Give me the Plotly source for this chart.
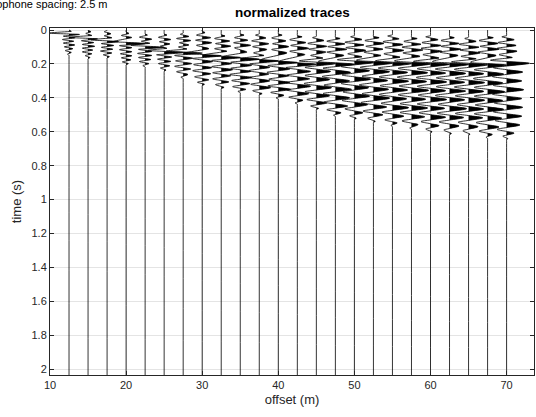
import plotly.graph_objects as go

# ---------------- data ----------------
offsets = [12.5, 15.0, 17.5, 20.0, 22.5, 25.0, 27.5, 30.0, 32.5, 35.0, 37.5, 40.0,
           42.5, 45.0, 47.5, 50.0, 52.5, 55.0, 57.5, 60.0, 62.5, 65.0, 67.5, 70.0]

# times (s) of wiggle extrema, one list per trace
wiggle_times = [
    [0.008, 0.018, 0.026, 0.036, 0.046, 0.056, 0.066, 0.077, 0.088, 0.099, 0.110, 0.121, 0.132, 0.142],
    [0.010, 0.020, 0.032, 0.043, 0.052, 0.063, 0.074, 0.085, 0.096, 0.107, 0.118, 0.129, 0.140, 0.151, 0.162],
    [0.010, 0.022, 0.034, 0.046, 0.058, 0.068, 0.080, 0.091, 0.102, 0.113, 0.124, 0.135, 0.146, 0.157],
    [0.020, 0.032, 0.044, 0.068, 0.080, 0.092, 0.104, 0.116, 0.128, 0.140, 0.152, 0.164, 0.176, 0.188, 0.198],
    [0.030, 0.042, 0.054, 0.066, 0.078, 0.090, 0.102, 0.114, 0.126, 0.138, 0.150, 0.162, 0.174, 0.186, 0.198, 0.210],
    [0.030, 0.043, 0.056, 0.069, 0.082, 0.095, 0.108, 0.120, 0.133, 0.146, 0.159, 0.172, 0.185, 0.198, 0.211, 0.224, 0.236],
    [0.025, 0.038, 0.050, 0.062, 0.075, 0.088, 0.100, 0.112, 0.124, 0.136, 0.150, 0.166, 0.182, 0.198, 0.214, 0.230, 0.246, 0.262, 0.278],
    [0.015, 0.030, 0.045, 0.060, 0.075, 0.090, 0.110, 0.137, 0.152, 0.168, 0.186, 0.204, 0.222, 0.240, 0.258, 0.276, 0.294, 0.308, 0.320],
    [0.035, 0.050, 0.065, 0.080, 0.095, 0.110, 0.125, 0.147, 0.162, 0.180, 0.198, 0.216, 0.234, 0.252, 0.270, 0.288, 0.306, 0.322, 0.338],
    [0.030, 0.045, 0.060, 0.075, 0.090, 0.105, 0.130, 0.157, 0.172, 0.190, 0.208, 0.226, 0.244, 0.262, 0.280, 0.298, 0.316, 0.334, 0.350, 0.362],
    [0.030, 0.047, 0.064, 0.081, 0.098, 0.115, 0.135, 0.150, 0.167, 0.182, 0.200, 0.220, 0.240, 0.260, 0.280, 0.300, 0.320, 0.340, 0.358, 0.375],
    [0.030, 0.047, 0.064, 0.081, 0.098, 0.115, 0.135, 0.175, 0.192, 0.210, 0.230, 0.250, 0.270, 0.290, 0.310, 0.330, 0.350, 0.368, 0.385, 0.400],
    [0.040, 0.057, 0.074, 0.091, 0.108, 0.125, 0.145, 0.185, 0.202, 0.222, 0.244, 0.266, 0.288, 0.310, 0.332, 0.354, 0.376, 0.396, 0.414, 0.430],
    [0.045, 0.062, 0.079, 0.096, 0.113, 0.130, 0.150, 0.165, 0.182, 0.198, 0.220, 0.244, 0.268, 0.292, 0.316, 0.340, 0.364, 0.388, 0.410, 0.430, 0.448, 0.462],
    [0.050, 0.066, 0.082, 0.098, 0.114, 0.130, 0.150, 0.185, 0.202, 0.225, 0.250, 0.275, 0.300, 0.325, 0.350, 0.375, 0.400, 0.425, 0.448, 0.470, 0.488, 0.502],
    [0.040, 0.056, 0.072, 0.088, 0.104, 0.120, 0.140, 0.158, 0.175, 0.192, 0.215, 0.240, 0.265, 0.290, 0.315, 0.340, 0.365, 0.390, 0.415, 0.440, 0.465, 0.488, 0.506, 0.520],
    [0.045, 0.062, 0.079, 0.096, 0.113, 0.130, 0.150, 0.178, 0.195, 0.220, 0.246, 0.272, 0.298, 0.324, 0.350, 0.376, 0.402, 0.428, 0.454, 0.478, 0.500, 0.520, 0.538],
    [0.035, 0.052, 0.069, 0.086, 0.103, 0.120, 0.140, 0.160, 0.182, 0.198, 0.224, 0.250, 0.276, 0.302, 0.328, 0.354, 0.380, 0.406, 0.432, 0.458, 0.484, 0.508, 0.530, 0.548, 0.562],
    [0.050, 0.067, 0.084, 0.101, 0.118, 0.135, 0.155, 0.182, 0.200, 0.226, 0.252, 0.278, 0.304, 0.330, 0.356, 0.382, 0.408, 0.434, 0.460, 0.486, 0.512, 0.536, 0.558, 0.578],
    [0.040, 0.057, 0.074, 0.091, 0.108, 0.125, 0.145, 0.165, 0.185, 0.202, 0.228, 0.254, 0.280, 0.306, 0.332, 0.358, 0.384, 0.410, 0.436, 0.462, 0.488, 0.514, 0.540, 0.564, 0.584, 0.600],
    [0.045, 0.062, 0.079, 0.096, 0.113, 0.130, 0.150, 0.186, 0.203, 0.230, 0.256, 0.282, 0.308, 0.334, 0.360, 0.386, 0.412, 0.438, 0.464, 0.490, 0.516, 0.542, 0.566, 0.590, 0.610],
    [0.050, 0.067, 0.084, 0.101, 0.118, 0.135, 0.155, 0.170, 0.188, 0.205, 0.232, 0.258, 0.284, 0.310, 0.336, 0.362, 0.388, 0.414, 0.440, 0.466, 0.492, 0.518, 0.544, 0.570, 0.594, 0.614],
    [0.045, 0.062, 0.079, 0.096, 0.113, 0.130, 0.150, 0.190, 0.207, 0.234, 0.260, 0.286, 0.312, 0.338, 0.364, 0.390, 0.416, 0.442, 0.468, 0.494, 0.520, 0.546, 0.572, 0.596, 0.616, 0.632],
    [0.040, 0.057, 0.074, 0.091, 0.108, 0.125, 0.145, 0.162, 0.178, 0.196, 0.222, 0.248, 0.274, 0.300, 0.326, 0.352, 0.378, 0.404, 0.430, 0.456, 0.482, 0.508, 0.534, 0.560, 0.586, 0.608, 0.626, 0.640],
]

# normalized amplitudes at those extrema (1 = one trace spacing of deflection)
wiggle_amps = [
    [0.12, -1.05, 0.55, -0.3, 0.3, -0.35, 0.25, -0.3, 0.3, -0.25, 0.2, -0.2, 0.12, -0.08],
    [0.15, -0.12, 0.2, -1.0, 0.5, -0.35, 0.3, -0.3, 0.35, -0.3, 0.25, -0.3, 0.2, -0.15, 0.1],
    [-0.15, 0.2, -0.15, 0.25, -0.85, 0.6, -0.3, 0.35, -0.3, 0.3, -0.35, 0.25, -0.2, 0.12],
    [0.15, -0.25, 0.3, -0.65, 1.0, -0.35, 0.3, -0.35, 0.3, -0.3, 0.3, -0.25, 0.25, -0.2, 0.12],
    [0.12, -0.3, 0.35, -0.2, 0.25, -0.75, 1.0, -0.35, 0.35, -0.4, 0.35, -0.35, 0.3, -0.3, 0.2, -0.12],
    [0.15, -0.3, 0.35, -0.25, 0.3, -0.2, 0.15, -0.85, 1.0, -0.4, 0.4, -0.35, 0.35, -0.3, 0.3, -0.2, 0.1],
    [-0.15, 0.3, -0.35, 0.4, -0.2, 0.3, -0.25, 0.2, -0.9, 1.0, -0.45, 0.5, -0.4, 0.45, -0.45, 0.4, -0.35, 0.25, -0.12],
    [0.15, -0.3, 0.45, -0.35, 0.5, -0.3, 0.35, -0.95, 1.0, -0.5, 0.55, -0.45, 0.5, -0.5, 0.45, -0.4, 0.35, -0.25, 0.12],
    [0.2, -0.35, 0.45, -0.3, 0.5, -0.35, 0.3, -0.9, 1.0, -0.5, 0.55, -0.5, 0.6, -0.45, 0.5, -0.45, 0.4, -0.3, 0.15],
    [0.2, -0.3, 0.4, -0.35, 0.55, -0.3, 0.35, -0.9, 1.0, -0.5, 0.6, -0.5, 0.55, -0.55, 0.6, -0.45, 0.5, -0.4, 0.3, -0.12],
    [-0.2, 0.35, -0.4, 0.5, -0.35, 0.4, -0.3, 0.25, -0.9, 1.0, -0.5, 0.55, -0.55, 0.5, -0.5, 0.55, -0.45, 0.6, -0.35, 0.15],
    [0.2, -0.35, 0.4, -0.3, 0.55, -0.35, 0.45, -0.9, 1.0, -0.55, 0.6, -0.6, 0.55, -0.5, 0.6, -0.55, 0.65, -0.4, 0.3, -0.12],
    [0.25, -0.4, 0.45, -0.35, 0.6, -0.4, 0.4, -0.95, 1.0, -0.6, 0.7, -0.55, 0.65, -0.6, 0.7, -0.55, 0.6, -0.45, 0.3, -0.12],
    [-0.2, 0.4, -0.45, 0.55, -0.4, 0.5, -0.3, 0.35, -0.9, 1.0, -0.6, 0.75, -0.6, 0.7, -0.65, 0.8, -0.6, 0.7, -0.5, 0.55, -0.3, 0.12],
    [0.25, -0.45, 0.5, -0.4, 0.6, -0.45, 0.45, -0.9, 1.0, -0.65, 0.8, -0.7, 0.75, -0.6, 0.85, -0.65, 0.75, -0.6, 0.65, -0.45, 0.3, -0.1],
    [-0.2, 0.4, -0.5, 0.5, -0.45, 0.6, -0.35, 0.4, -0.9, 1.0, -0.7, 0.8, -0.65, 0.85, -0.7, 0.75, -0.6, 0.8, -0.65, 0.7, -0.5, 0.45, -0.25, 0.1],
    [0.3, -0.45, 0.55, -0.4, 0.5, -0.5, 0.4, -0.9, 1.0, -0.7, 0.85, -0.6, 0.75, -0.75, 0.8, -0.6, 0.85, -0.65, 0.7, -0.55, 0.5, -0.3, 0.1],
    [-0.25, 0.35, -0.5, 0.55, -0.4, 0.6, -0.45, 0.4, -0.9, 1.0, -0.75, 0.8, -0.7, 0.85, -0.65, 0.8, -0.7, 0.75, -0.6, 0.85, -0.55, 0.6, -0.4, 0.25, -0.08],
    [0.3, -0.4, 0.5, -0.5, 0.6, -0.45, 0.45, -0.9, 1.0, -0.7, 0.85, -0.75, 0.8, -0.65, 0.9, -0.7, 0.75, -0.6, 0.85, -0.6, 0.7, -0.5, 0.35, -0.1],
    [-0.25, 0.4, -0.45, 0.55, -0.5, 0.6, -0.4, 0.45, -0.9, 1.0, -0.7, 0.8, -0.75, 0.85, -0.7, 0.8, -0.65, 0.85, -0.7, 0.75, -0.6, 0.8, -0.5, 0.45, -0.25, 0.08],
    [0.25, -0.45, 0.5, -0.45, 0.6, -0.5, 0.45, -0.9, 1.0, -0.75, 0.85, -0.7, 0.8, -0.7, 0.85, -0.75, 0.8, -0.6, 0.9, -0.65, 0.75, -0.55, 0.5, -0.3, 0.1],
    [-0.2, 0.4, -0.5, 0.55, -0.45, 0.6, -0.4, 0.4, -0.9, 1.0, -0.75, 0.8, -0.7, 0.85, -0.75, 0.8, -0.7, 0.85, -0.6, 0.8, -0.7, 0.75, -0.55, 0.5, -0.3, 0.08],
    [0.3, -0.45, 0.55, -0.4, 0.6, -0.5, 0.45, -0.9, 1.0, -0.7, 0.85, -0.75, 0.8, -0.7, 0.9, -0.7, 0.8, -0.65, 0.85, -0.7, 0.75, -0.6, 0.6, -0.45, 0.25, -0.08],
    [-0.25, 0.4, -0.45, 0.5, -0.5, 0.55, -0.4, 0.3, -0.85, 1.2, -0.7, 0.85, -0.75, 0.8, -0.7, 0.9, -0.75, 0.8, -0.65, 0.85, -0.7, 0.8, -0.6, 0.7, -0.5, 0.4, -0.2, 0.06],
]

record_end = 2.035          # last sample time of the record (s)
spacing_label = "geophone spacing: 2.5 m"
x_tick_vals = [10, 20, 30, 40, 50, 60, 70]
y_tick_vals = [0, 0.2, 0.4, 0.6, 0.8, 1.0, 1.2, 1.4, 1.6, 1.8, 2.0]
y_tick_text = ["0", "0.2", "0.4", "0.6", "0.8", "1", "1.2", "1.4", "1.6", "1.8", "2"]

# ---------------- drawing ----------------
AMP_SCALE = 2.5   # one normalized unit = one geophone spacing
INK = "#262626"
FONT = "Liberation Sans, Arial, Helvetica, sans-serif"
W, H = 536, 417
ML, MR, MT, MB = 50, 2, 28, 42


def build_points(ts, amps):
    """Trace samples plus baseline crossings (as a wiggle plotter does)."""
    pts = [(0.0, 0.0)]
    lead = ts[0] - 0.008
    if lead > 0.01:
        pts.append((lead - 0.008, 0.0))
    if lead > 0:
        pts.append((lead, 0.0))
    for i in range(len(ts)):
        if i > 0 and amps[i - 1] * amps[i] < 0:
            a0, a1 = amps[i - 1], amps[i]
            tz = ts[i - 1] + (ts[i] - ts[i - 1]) * a0 / (a0 - a1)
            pts.append((tz, 0.0))
        pts.append((ts[i], amps[i]))
    pts.append((ts[-1] + 0.008, 0.0))
    pts.append((ts[-1] + 0.016, 0.0))
    pts.append((record_end, 0.0))
    return pts


fig = go.Figure()

for off, ts, amps in zip(offsets, wiggle_times, wiggle_amps):
    pts = build_points(ts, amps)
    # positive lobes -> filled polygons
    fx, fy = [], []
    i = 0
    while i < len(pts):
        if pts[i][1] > 0:
            j = i
            while j < len(pts) and pts[j][1] > 0:
                j += 1
            seg = [pts[i - 1]] + pts[i:j] + [pts[j]]
            fx += [off + a * AMP_SCALE for _, a in seg] + [None]
            fy += [t for t, _ in seg] + [None]
            i = j
        else:
            i += 1
    fig.add_trace(go.Scatter(
        x=fx, y=fy, mode="lines", fill="toself", fillcolor="black",
        line=dict(color="black", width=0, shape="spline"),
        hoverinfo="skip", showlegend=False))
    fig.add_trace(go.Scatter(
        x=[off + a * AMP_SCALE for _, a in pts], y=[t for t, _ in pts],
        mode="lines", line=dict(color="black", width=0.8, shape="spline"),
        hoverinfo="skip", showlegend=False))

axis_common = dict(
    showline=True, linecolor=INK, linewidth=1, mirror="ticks",
    ticks="inside", ticklen=4, tickcolor=INK, tickwidth=1,
    showgrid=True, gridcolor="#e4e4e4", gridwidth=1, zeroline=False,
    tickfont=dict(family=FONT, size=11, color=INK),
)

plot_w = W - ML - MR
plot_h = H - MT - MB

fig.update_layout(
    width=W, height=H,
    margin=dict(l=ML, r=MR, t=MT, b=MB),
    paper_bgcolor="white", plot_bgcolor="white",
    xaxis=dict(range=[10, 73.6], tickvals=x_tick_vals,
               title=dict(text="offset (m)", standoff=4,
                          font=dict(family=FONT, size=13, color=INK)),
               **axis_common),
    yaxis=dict(range=[record_end, -0.012], tickvals=y_tick_vals, ticktext=y_tick_text,
               title=dict(text="time (s)", standoff=6,
                          font=dict(family=FONT, size=13, color=INK)),
               **axis_common),
    annotations=[
        dict(text="<b>normalized traces</b>", xref="paper", yref="paper",
             x=0.5, y=1 + (MT - 12) / plot_h, xanchor="center", yanchor="middle",
             showarrow=False, font=dict(family=FONT, size=13.5, color="black")),
        dict(text=spacing_label, xref="paper", yref="paper",
             x=(110 - ML) / plot_w, y=1 + (MT - 4) / plot_h,
             xanchor="right", yanchor="middle", showarrow=False,
             font=dict(family=FONT, size=11, color="black")),
    ],
)

fig.write_html("out.html", config={"displayModeBar": False},
               post_script="document.body.style.margin='0';")
